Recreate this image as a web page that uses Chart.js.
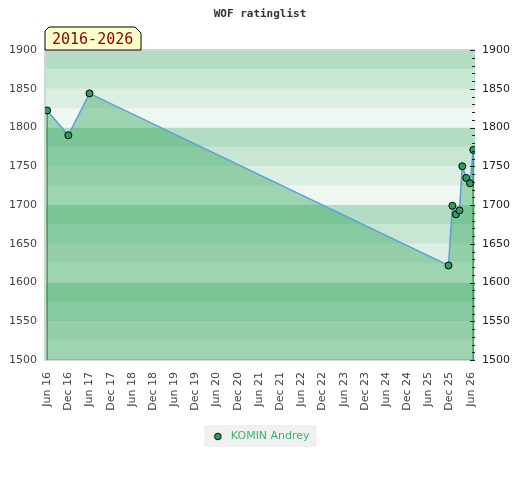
<!DOCTYPE html>
<html lang="en">
<head>
    <meta charset="UTF-8">
    <title>WOF ratinglist</title>
    <script src="https://cdn.jsdelivr.net/npm/chart.js"></script>
    <style>
        html, body { margin: 0; padding: 0; background: #fff; }
        #wrap { width: 520px; height: 480px; }
    </style>
</head>
<body>
    <div id="wrap"><canvas id="myChart" width="520" height="480"></canvas></div>
    <script>
        // Rating list data (x = months since Jun 2016)
        const ratingMonths = [0, 6, 12, 113.7, 114.8, 115.8, 116.8, 117.6, 118.7, 119.8, 120.7];
        const ratings = [1822, 1790, 1844, 1622, 1699, 1688, 1693, 1750, 1735, 1728, 1771];
        const xTickLabels = ['Jun 16', 'Dec 16', 'Jun 17', 'Dec 17', 'Jun 18', 'Dec 18', 'Jun 19',
            'Dec 19', 'Jun 20', 'Dec 20', 'Jun 21', 'Dec 21', 'Jun 22', 'Dec 22', 'Jun 23',
            'Dec 23', 'Jun 24', 'Dec 24', 'Jun 25', 'Dec 25', 'Jun 26'];
        const yTicks = [1500, 1550, 1600, 1650, 1700, 1750, 1800, 1850, 1900];
        const playerName = 'KOMIN Andrey';
        const periodLabel = '2016-2026';

        const bandColors = ['#eef7f1', '#dcefe3', '#c8e6d4', '#b3ddc3'];
        const font = 'DejaVu Sans';

        // small round marker for the legend
        const dot = document.createElement('canvas');
        dot.width = 9; dot.height = 9;
        const dctx = dot.getContext('2d');
        dctx.beginPath();
        dctx.arc(4.5, 4.5, 3.3, 0, Math.PI * 2);
        dctx.fillStyle = '#2e9e5a';
        dctx.fill();
        dctx.strokeStyle = '#000';
        dctx.lineWidth = 1;
        dctx.stroke();

        // Background bands, plot frame and fill edges
        const backdrop = {
            id: 'backdrop',
            beforeDraw(chart) {
                const c = chart.ctx, a = chart.chartArea, y = chart.scales.y;
                // legend box background
                const hb = chart.legend.legendHitBoxes[0];
                if (hb) {
                    c.fillStyle = '#f0f0f0';
                    c.fillRect(hb.left - 6, hb.top - 6, hb.width + 13, hb.height + 11);
                }
                for (let v = 1500; v < 1900; v += 25) {
                    c.fillStyle = bandColors[((v - 1500) % 100) / 25];
                    const top = y.getPixelForValue(v + 25), bot = y.getPixelForValue(v);
                    c.fillRect(a.left, top, a.right - a.left, bot - top);
                }
                c.strokeStyle = '#d4d4d4';
                c.lineWidth = 2;
                c.beginPath();
                c.moveTo(a.right, a.top);
                c.lineTo(a.left, a.top);
                c.lineTo(a.left, a.bottom);
                c.lineTo(a.right, a.bottom);
                c.stroke();
            },
            beforeDatasetsDraw(chart) {
                const c = chart.ctx, a = chart.chartArea;
                const pts = chart.getDatasetMeta(0).data;
                c.strokeStyle = '#3a9a5c';
                c.lineWidth = 1.5;
                [pts[0], pts[pts.length - 1]].forEach(p => {
                    c.beginPath();
                    c.moveTo(p.x, p.y);
                    c.lineTo(p.x, a.bottom);
                    c.stroke();
                });
            },
            afterDraw(chart) {
                const c = chart.ctx, a = chart.chartArea, y = chart.scales.y;
                // right axis tick marks
                c.strokeStyle = '#222';
                c.lineWidth = 1;
                for (let v = 1500; v <= 1900; v += 10) {
                    const py = Math.round(y.getPixelForValue(v)) + 0.5;
                    c.beginPath();
                    c.moveTo(a.right - (v % 50 === 0 ? 5 : 3), py);
                    c.lineTo(a.right, py);
                    c.stroke();
                }
                // period label
                const l = a.left, b = a.top;
                c.beginPath();
                c.moveTo(l, b);
                c.lineTo(l, b - 19);
                c.lineTo(l + 4, b - 23);
                c.lineTo(l + 90, b - 23);
                c.lineTo(l + 96, b - 17);
                c.lineTo(l + 96, b);
                c.closePath();
                c.fillStyle = '#ffffcc';
                c.fill();
                c.strokeStyle = '#000';
                c.lineWidth = 1;
                c.stroke();
                c.fillStyle = '#8b0000';
                c.font = '15px "DejaVu Sans Mono"';
                c.textBaseline = 'alphabetic';
                c.textAlign = 'left';
                c.fillText(periodLabel, l + 7, b - 6);
            }
        };

        const ctx = document.getElementById('myChart').getContext('2d');
        const myChart = new Chart(ctx, {
            type: 'line',
            data: {
                datasets: [{
                    label: playerName,
                    data: ratingMonths.map((m, i) => ({ x: m, y: ratings[i] })),
                    borderColor: '#5b9fd6',
                    borderWidth: 1.5,
                    backgroundColor: 'rgba(40, 160, 80, 0.4)',
                    fill: 'start',
                    tension: 0,
                    pointRadius: 3.5,
                    pointBackgroundColor: '#2e9e5a',
                    pointBorderColor: '#000',
                    pointBorderWidth: 1
                }]
            },
            options: {
                responsive: false,
                animation: false,
                layout: { padding: { top: 0, bottom: 28, left: 0, right: 0 } },
                plugins: {
                    title: {
                        display: true,
                        text: 'WOF ratinglist',
                        color: '#333',
                        font: { family: 'DejaVu Sans Mono', size: 11, weight: 'bold' },
                        padding: { top: 8, bottom: 28.8 }
                    },
                    legend: {
                        position: 'bottom',
                        labels: {
                            color: '#3cb371',
                            font: { family: font, size: 11 },
                            usePointStyle: true,
                            pointStyleWidth: 15,
                            boxHeight: 5,
                            padding: 10,
                            generateLabels(chart) {
                                return [{
                                    text: playerName,
                                    pointStyle: dot,
                                    fontColor: '#3cb371',
                                    datasetIndex: 0
                                }];
                            }
                        }
                    },
                    tooltip: { enabled: false }
                },
                scales: {
                    x: {
                        type: 'linear',
                        min: -0.6,
                        max: 121.2,
                        grid: { display: false, drawTicks: false },
                        border: { display: false },
                        afterBuildTicks(scale) {
                            scale.ticks = xTickLabels.map((t, i) => ({ value: i * 6 }));
                        },
                        afterFit(scale) { scale.height = 61; },
                        ticks: {
                            minRotation: 90,
                            maxRotation: 90,
                            padding: 12,
                            color: '#444',
                            font: { family: font, size: 11 },
                            callback(v) { return xTickLabels[Math.round(v / 6)]; }
                        }
                    },
                    y: {
                        position: 'left',
                        min: 1500,
                        max: 1900,
                        grid: { display: false, drawTicks: false },
                        border: { display: false },
                        afterBuildTicks(scale) {
                            scale.ticks = yTicks.map(v => ({ value: v }));
                        },
                        afterFit(scale) { scale.width = 45; },
                        ticks: {
                            padding: 8, color: '#444', font: { family: font, size: 11 },
                            callback(v) { return String(v); }
                        }
                    },
                    y2: {
                        position: 'right',
                        min: 1500,
                        max: 1900,
                        grid: { display: false, drawTicks: false },
                        border: { display: false },
                        afterBuildTicks(scale) {
                            scale.ticks = yTicks.map(v => ({ value: v }));
                        },
                        afterFit(scale) { scale.width = 45; },
                        ticks: {
                            padding: 7, color: '#222', font: { family: font, size: 11 },
                            callback(v) { return String(v); }
                        }
                    }
                }
            },
            plugins: [backdrop]
        });
    </script>
</body>
</html>
